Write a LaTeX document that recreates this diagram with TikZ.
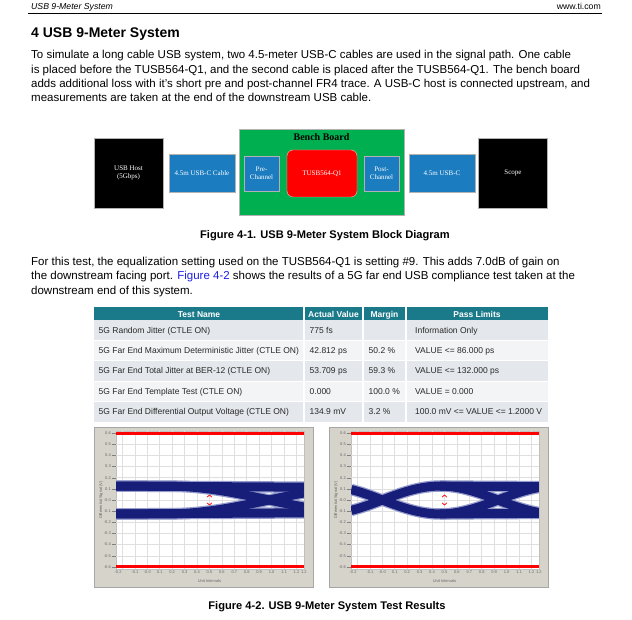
\documentclass[tikz,border=0pt]{standalone}
\usepackage{fontspec}
\setmainfont{Liberation Sans}
\newfontfamily\blockfont{Liberation Serif}
\usetikzlibrary{positioning}

\definecolor{cableblue}{RGB}{27,124,192}
\definecolor{boardgreen}{RGB}{0,176,80}
\definecolor{chipred}{RGB}{255,0,0}
\definecolor{headteal}{RGB}{26,122,138}
\definecolor{rowgray}{RGB}{228,231,235}
\definecolor{rowlight}{RGB}{242,244,246}
\definecolor{panelgray}{RGB}{214,211,203}
\definecolor{eyeblue}{RGB}{22,30,122}
\definecolor{eyefuzz}{RGB}{150,156,204}
\definecolor{linkblue}{RGB}{30,30,230}
\definecolor{textgray}{RGB}{40,40,40}

\tikzset{
    blk/.style={draw=gray!60, thin, text=white, align=center, font=\blockfont\fontsize{7}{8}\selectfont, inner sep=1pt},
    hostbox/.style={blk, fill=black, minimum width=69pt, minimum height=70pt},
    cablebox/.style={blk, fill=cableblue, minimum width=66pt, minimum height=38pt},
    chanbox/.style={blk, fill=cableblue, minimum width=35pt, minimum height=35pt},
    paraline/.style={anchor=base west, inner sep=0pt, font=\fontsize{11.5}{13}\selectfont},
    caption/.style={anchor=base, inner sep=0pt, font=\bfseries\fontsize{11.1}{13}\selectfont},
    cell/.style={anchor=base west, inner sep=0pt, text=textgray, font=\fontsize{8.5}{10}\selectfont},
    headcell/.style={anchor=base, inner sep=0pt, text=white, font=\bfseries\fontsize{8.5}{10}\selectfont},
    ticklabel/.style={inner sep=0pt, text=gray!80!black, font=\fontsize{4}{4.5}\selectfont},
    band/.style={line width=9pt, eyeblue},
    fuzz/.style={line width=11.5pt, eyefuzz},
}

\begin{document}
\begin{tikzpicture}[x=1pt, y=-1pt]
    % the page
    \useasboundingbox[fill=white] (0,0) rectangle (632,620);

    % the header
    \node[anchor=base west, inner sep=0pt, font=\itshape\fontsize{8.7}{10}\selectfont] (runhead) at (31,9.5) {USB 9-Meter System};
    \node[anchor=base east, inner sep=0pt, font=\fontsize{8.7}{10}\selectfont] (site) at (601,9.5) {www.ti.com};
    \draw[line width=1.5pt] (28,13.5) -- (602,13.5);

    % the text
    \node[anchor=base west, inner sep=0pt, font=\bfseries\fontsize{14}{16}\selectfont] (title) at (31,38) {4 USB 9-Meter System};
    \node[paraline] (para1) at (31,59) {To simulate a long cable USB system, two 4.5-meter USB-C cables are used in the signal path. One cable};
    \node[paraline] (para2) at (31,73.5) {is placed before the TUSB564-Q1, and the second cable is placed after the TUSB564-Q1. The bench board};
    \node[paraline] (para3) at (31,88) {adds additional loss with it's short pre and post-channel FR4 trace. A USB-C host is connected upstream, and};
    \node[paraline] (para4) at (31,102) {measurements are taken at the end of the downstream USB cable.};

    % the block diagram
    \node[blk, fill=boardgreen, minimum width=165pt, minimum height=86pt] (board) at (321.5,172) {};
    \node[inner sep=0pt, font=\blockfont\bfseries\fontsize{10}{12}\selectfont] (boardname) at (321.5,137.5) {Bench Board};
    \node[hostbox] (host) at (128.5,173) {USB Host\\(5Gbps)};
    \node[cablebox] (cablea) at (202,173) {4.5m USB-C Cable};
    \node[chanbox] (prech) at (261.5,173.5) {Pre-\\Channel};
    \node[blk, fill=chipred, draw=white!75!red, rounded corners=6pt, minimum width=70pt, minimum height=47pt] (chip) at (322,173.5) {TUSB564-Q1};
    \node[chanbox] (postch) at (381.5,173.5) {Post-\\Channel};
    \node[cablebox] (cableb) at (442,173) {4.5m USB-C};
    \node[hostbox] (scope) at (513,173) {Scope};

    \node[caption] (figa) at (325,239) {Figure 4-1. USB 9-Meter System Block Diagram};

    \node[paraline] (para5) at (31,265.5) {For this test, the equalization setting used on the TUSB564-Q1 is setting \#9. This adds 7.0dB of gain on};
    \node[paraline] (para6) at (31,280) {the downstream facing port. {\color{linkblue}Figure 4-2} shows the results of a 5G far end USB compliance test taken at the};
    \node[paraline] (para7) at (31,294.5) {downstream end of this system.};

    % the table
    \fill[headteal] (94,307.5) rectangle (548,320);
    \foreach \r in {1,...,5} {
        \ifodd\r \def\rowcol{rowgray}\else \def\rowcol{rowlight}\fi
        \fill[\rowcol] (94,{320+20.34*(\r-1)}) rectangle (548,{320+20.34*\r});
    };
    \foreach \c in {304,363,406} {
        \draw[white, line width=1.2pt] (\c,307.5) -- (\c,421.7);
    };
    \foreach \r in {1,...,4} {
        \draw[white, line width=1pt] (94,{320+20.34*\r}) -- (548,{320+20.34*\r});
    };
    \node[headcell] (hname) at (199,317.2) {Test Name};
    \node[headcell] (hval) at (333.5,317.2) {Actual Value};
    \node[headcell] (hmarg) at (384.5,317.2) {Margin};
    \node[headcell] (hlim) at (477,317.2) {Pass Limits};
    \foreach \name/\val/\marg/\lim [count=\r] in {
        {5G Random Jitter (CTLE ON)}/{775 fs}/{}/{Information Only},
        {5G Far End Maximum Deterministic Jitter (CTLE ON)}/{42.812 ps}/{50.2 \%}/{VALUE <= 86.000 ps},
        {5G Far End Total Jitter at BER-12 (CTLE ON)}/{53.709 ps}/{59.3 \%}/{VALUE <= 132.000 ps},
        {5G Far End Template Test (CTLE ON)}/{0.000}/{100.0 \%}/{VALUE = 0.000},
        {5G Far End Differential Output Voltage (CTLE ON)}/{134.9 mV}/{3.2 \%}/{100.0 mV <= VALUE <= 1.2000 V}} {
        \node[cell] (name\r) at (98.5,{320+20.34*(\r-0.5)+3}) {\name};
        \node[cell] (val\r) at (309.5,{320+20.34*(\r-0.5)+3}) {\val};
        \node[cell] (marg\r) at (368.5,{320+20.34*(\r-0.5)+3}) {\marg};
        \node[cell] (lim\r) at (415,{320+20.34*(\r-0.5)+3}) {\lim};
    };

    % the two eye plots
    \foreach \side in {0,1} {
        \begin{scope}[shift={({147.3+235*\side},500)}, x=124.3pt, y=111.5pt]
            \fill[panelgray, draw=gray!70] (-0.429,0.655) rectangle (1.333,-0.78);
            \fill[white, draw=gray!50] (-0.25,-0.62) rectangle (1.26,0.62);
            \foreach \k in {-2,...,12} {
                \draw[gray!25, line width=0.5pt] (\k/10,-0.62) -- (\k/10,0.62);
            };
            \foreach \k in {-5,...,5} {
                \draw[gray!25, line width=0.5pt] (-0.25,\k/10) -- (1.26,\k/10);
            };
            \draw[red, line width=3pt] (-0.25,0.6) -- (1.26,0.6);
            \draw[red, line width=3pt] (-0.25,-0.6) -- (1.26,-0.6);
            \foreach \k/\t in {6/0.6,5/0.5,4/0.4,3/0.3,2/0.2,1/0.1,0/-0.0,-1/-0.1,-2/-0.2,-3/-0.3,-4/-0.4,-5/-0.5,-6/-0.6} {
                \node[ticklabel, anchor=east] (yl\side\k) at (-0.292,\k/10) {\t};
                \draw[gray, line width=0.4pt] (-0.285,\k/10) -- (-0.25,\k/10);
            };
            \foreach \u/\t [count=\n] in {-2.35/-0.2,-1/-0.1,0/-0.0,1/0.1,2/0.2,3/0.3,4/0.4,5/0.5,6/0.6,7/0.7,8/0.8,9/0.9,10/1.0,11/1.1,12/1.2,12.6/1.2} {
                \node[ticklabel, anchor=north] (xl\side-\n) at (\u/10,-0.635) {\t};
            };
            \node[ticklabel] (xt\side) at (0.5,-0.73) {Unit Intervals};
            \node[ticklabel, rotate=90] (yt\side) at (-0.372,0) {Differential Signal (V)};
            \draw[red, line width=0.7pt] (0.48,0.025) -- (0.5,0.045) -- (0.52,0.025);
            \draw[red, line width=0.7pt] (0.48,-0.025) -- (0.5,-0.045) -- (0.52,-0.025);
        \end{scope}
    };

    % left eye
    \begin{scope}[shift={(147.3,500)}, x=124.3pt, y=111.5pt]
        \clip (-0.25,-0.62) rectangle (1.26,0.62);
        \foreach \look in {fuzz,band} {
            \foreach \s in {1,-1} {
                \draw[\look] (-0.25,{\s*0.125}) -- (1.26,{\s*0.115});
                \draw[\look] plot[domain=-0.25:1.26, samples=60] (\x, {\s*0.125*cos(90*max(\x-0.15,0)/0.83)});
            };
        };
    \end{scope}

    % right eye
    \begin{scope}[shift={(382.3,500)}, x=124.3pt, y=111.5pt]
        \clip (-0.25,-0.62) rectangle (1.26,0.62);
        \foreach \look in {fuzz,band} {
            \foreach \s in {1,-1} {
                \draw[\look] (0.465,{\s*0.125}) -- (1.26,{\s*0.12});
                \draw[\look] plot[domain=-0.25:1.26, samples=60] (\x, {\s*0.125*sin(180*\x/0.93)});
            };
        };
    \end{scope}

    \node[caption] (figb) at (327,609) {Figure 4-2. USB 9-Meter System Test Results};
\end{tikzpicture}
\end{document}
